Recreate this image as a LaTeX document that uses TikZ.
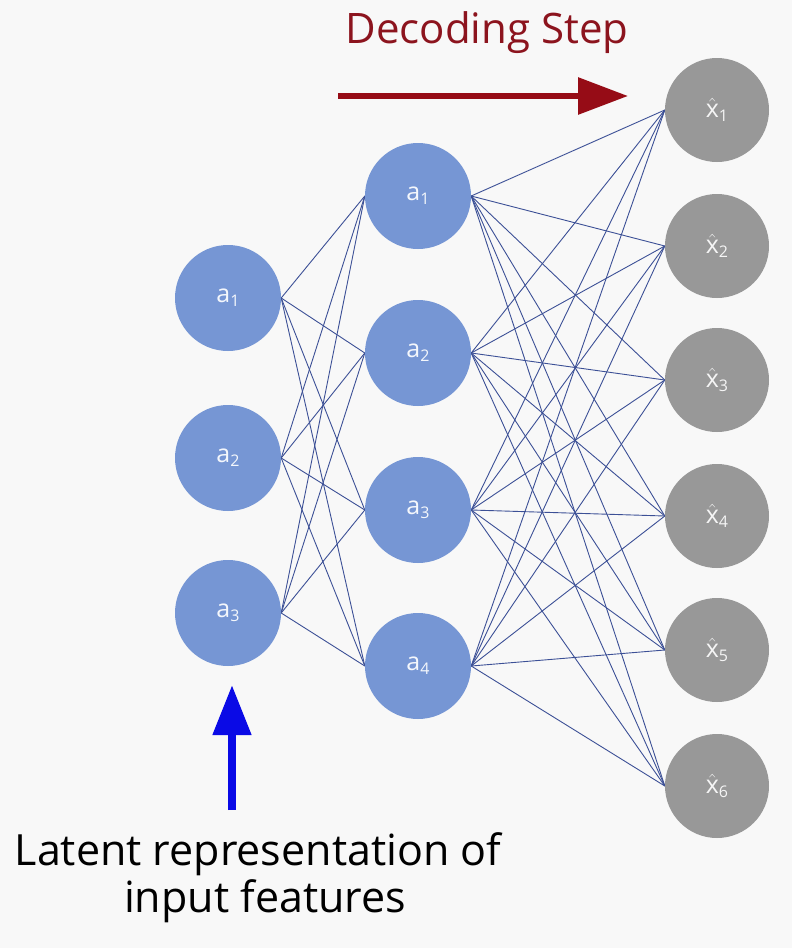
\documentclass[tikz,border=0pt]{standalone}
\usepackage{fontspec}
\setmainfont{Open Sans}
\usetikzlibrary{arrows.meta}
\pgfdeclarelayer{backdrop}
\pgfdeclarelayer{edges}
\pgfsetlayers{backdrop,edges,main}
\definecolor{nodeblue}{RGB}{118,150,212}
\definecolor{nodegray}{RGB}{152,152,152}
\definecolor{edgecol}{RGB}{60,80,150}
\definecolor{darkred}{RGB}{150,12,22}
\definecolor{titlered}{RGB}{140,20,30}
\definecolor{labblue}{RGB}{10,10,230}
\definecolor{bg}{RGB}{248,248,248}
\newcommand{\nlab}[2]{\fontsize{25}{25}\selectfont #1\raisebox{-4pt}{\fontsize{16}{16}\selectfont #2}}
\newcommand{\hx}{$\hat{\hbox{x}}$}
\begin{document}
\begin{tikzpicture}[x=1pt,y=-1pt,
  bluenode/.style={circle,fill=nodeblue,minimum size=106pt,inner sep=0pt,text=white!92!nodeblue},
  graynode/.style={circle,fill=nodegray,minimum size=104pt,inner sep=0pt,text=white!90!nodegray},
  edge/.style={draw=edgecol,line width=0.9pt}]
\begin{pgfonlayer}{backdrop}
\fill[bg] (0,0) rectangle (792,948);
\end{pgfonlayer}
\useasboundingbox (0,0) rectangle (792,948);
% layer 1
\node[bluenode] (a1) at (228,298) {\nlab{a}{1}};
\node[bluenode] (a2) at (228,458) {\nlab{a}{2}};
\node[bluenode] (a3) at (228,613) {\nlab{a}{3}};
% layer 2
\node[bluenode] (b1) at (418,196) {\nlab{a}{1}};
\node[bluenode] (b2) at (418,353) {\nlab{a}{2}};
\node[bluenode] (b3) at (418,510) {\nlab{a}{3}};
\node[bluenode] (b4) at (418,666) {\nlab{a}{4}};
% layer 3
\node[graynode] (x1) at (717,110) {\nlab{\hx}{1}};
\node[graynode] (x2) at (717,246) {\nlab{\hx}{2}};
\node[graynode] (x3) at (717,380) {\nlab{\hx}{3}};
\node[graynode] (x4) at (717,516) {\nlab{\hx}{4}};
\node[graynode] (x5) at (717,650) {\nlab{\hx}{5}};
\node[graynode] (x6) at (717,786) {\nlab{\hx}{6}};
% edges
\begin{pgfonlayer}{edges}
\foreach \i in {1,2,3}{\foreach \j in {1,2,3,4}{\draw[edge] (a\i.east) -- (b\j.west);}}
\foreach \i in {1,2,3,4}{\foreach \j in {1,...,6}{\draw[edge] (b\i.east) -- (x\j.west);}}
\end{pgfonlayer}
% title and arrow
\node[anchor=base,text=titlered,inner sep=0pt] (title) at (487,43) {\fontsize{42}{42}\selectfont Decoding Step};
\coordinate (rs) at (338,96);
\coordinate (re) at (628,96);
\draw[darkred,line width=6pt,-{Triangle[length=50pt,width=36pt]}] (rs) -- (re);
% bottom label and arrow
\node[anchor=base,inner sep=0pt] (lat) at (258,865) {\fontsize{43}{47}\selectfont Latent representation of};
\node[anchor=base,inner sep=0pt] (inp) at (265,912) {\fontsize{43}{47}\selectfont input features};
\coordinate (bs) at (232,810);
\coordinate (be) at (232,685);
\draw[labblue,line width=8pt,-{Triangle[length=50pt,width=37pt]}] (bs) -- (be);
\end{tikzpicture}
\end{document}
